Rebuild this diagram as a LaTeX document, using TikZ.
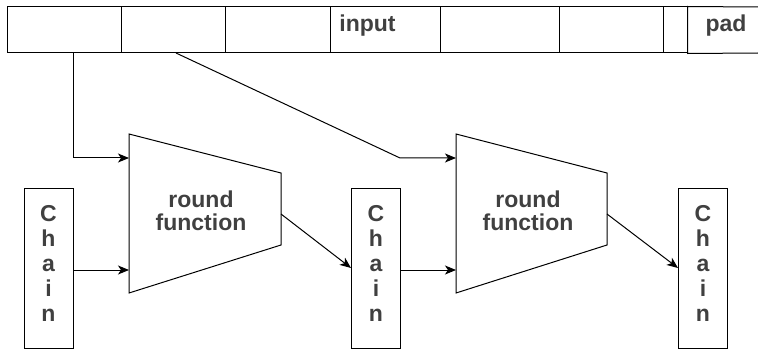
\documentclass[tikz,border=0pt]{standalone}
\usepackage{fontspec}
\setmainfont{Liberation Sans}
\usetikzlibrary{arrows.meta}
\definecolor{ink}{RGB}{0,0,0}
\definecolor{txt}{RGB}{64,64,64}
\begin{document}
\begin{tikzpicture}[x=1pt,y=-1pt,
  line width=1pt,
  cell/.style={draw=ink, line width=1pt, minimum height=46pt, inner sep=0pt, anchor=center},
  chainbox/.style={draw=ink, line width=1pt, minimum width=49pt, minimum height=159pt, inner sep=0pt},
  lbl/.style={text=txt, font=\fontsize{23}{23}\selectfont\bfseries, inner sep=0pt},
  chaintext/.style={text=txt, font=\fontsize{23}{25}\selectfont\bfseries, align=center, inner sep=0pt},
  edge/.style={draw=ink, line width=1pt},
  flow/.style={draw=ink, line width=1pt, -{Stealth[length=11pt,width=9pt,inset=3pt]}},
]
\useasboundingbox (0,0) rectangle (758,350);

% input block, split into cells
\node[cell, minimum width=114pt] (c1) at (64,30) {};
\node[cell, minimum width=104pt] (c2) at (173,30) {};
\node[cell, minimum width=105pt] (c3) at (277.5,30) {};
\node[cell, minimum width=110pt] (c4) at (385,30) {};
\node[cell, minimum width=119pt] (c5) at (499.5,30) {};
\node[cell, minimum width=104pt] (c6) at (611,30) {};
\node[cell, minimum width=24pt] (c7) at (675,30) {};
\draw[edge] (758,7) -- (c7.north east) -- (c7.south east) -- (758,53);
\node[lbl, anchor=base] (inputlbl) at (367.5,31.7) {input};
\node[lbl, anchor=base] (padlbl) at (726,31.7) {pad};

% round functions (trapezoids)
\coordinate (r1a) at (129,134);
\coordinate (r1b) at (281,173);
\coordinate (r1c) at (281,245);
\coordinate (r1d) at (129,293);
\draw[edge] (r1a) -- (r1b) -- (r1c) -- (r1d) -- cycle;
\node[lbl, align=center] (rf1) at (201,210.3) {round\\function};
\coordinate (r1in1) at (129,158);
\coordinate (r1in2) at (129,270);
\coordinate (r1out) at (281,214);

\coordinate (r2a) at (456,134);
\coordinate (r2b) at (607,173);
\coordinate (r2c) at (607,245);
\coordinate (r2d) at (456,293);
\draw[edge] (r2a) -- (r2b) -- (r2c) -- (r2d) -- cycle;
\node[lbl, align=center] (rf2) at (528,210.3) {round\\function};
\coordinate (r2in1) at (456,158);
\coordinate (r2in2) at (456,270);
\coordinate (r2out) at (607,214);

% chaining values
\node[chainbox] (ch1) at (48.5,268.5) {};
\node[chainbox] (ch2) at (376,268.5) {};
\node[chainbox] (ch3) at (703,268.5) {};
\node[chaintext] (t1) at (48.5,263.8) {C\\h\\a\\i\\n};
\node[chaintext] (t2) at (376,263.8) {C\\h\\a\\i\\n};
\node[chaintext] (t3) at (703,263.8) {C\\h\\a\\i\\n};

% message blocks into the rounds
\coordinate (tap1) at (73,53);
\coordinate (tap2) at (176,53);
\coordinate (bend2) at (400,158);
\draw[flow] (tap1) |- (r1in1);
\draw[flow] (tap2) -- (bend2) -- (r2in1);

% chaining values through the rounds
\draw[flow] (ch1.east |- r1in2) -- (r1in2);
\draw[flow] (r1out) -- (ch2.west |- 0,268);
\draw[flow] (ch2.east |- r2in2) -- (r2in2);
\draw[flow] (r2out) -- (ch3.west |- 0,268);
\end{tikzpicture}
\end{document}
